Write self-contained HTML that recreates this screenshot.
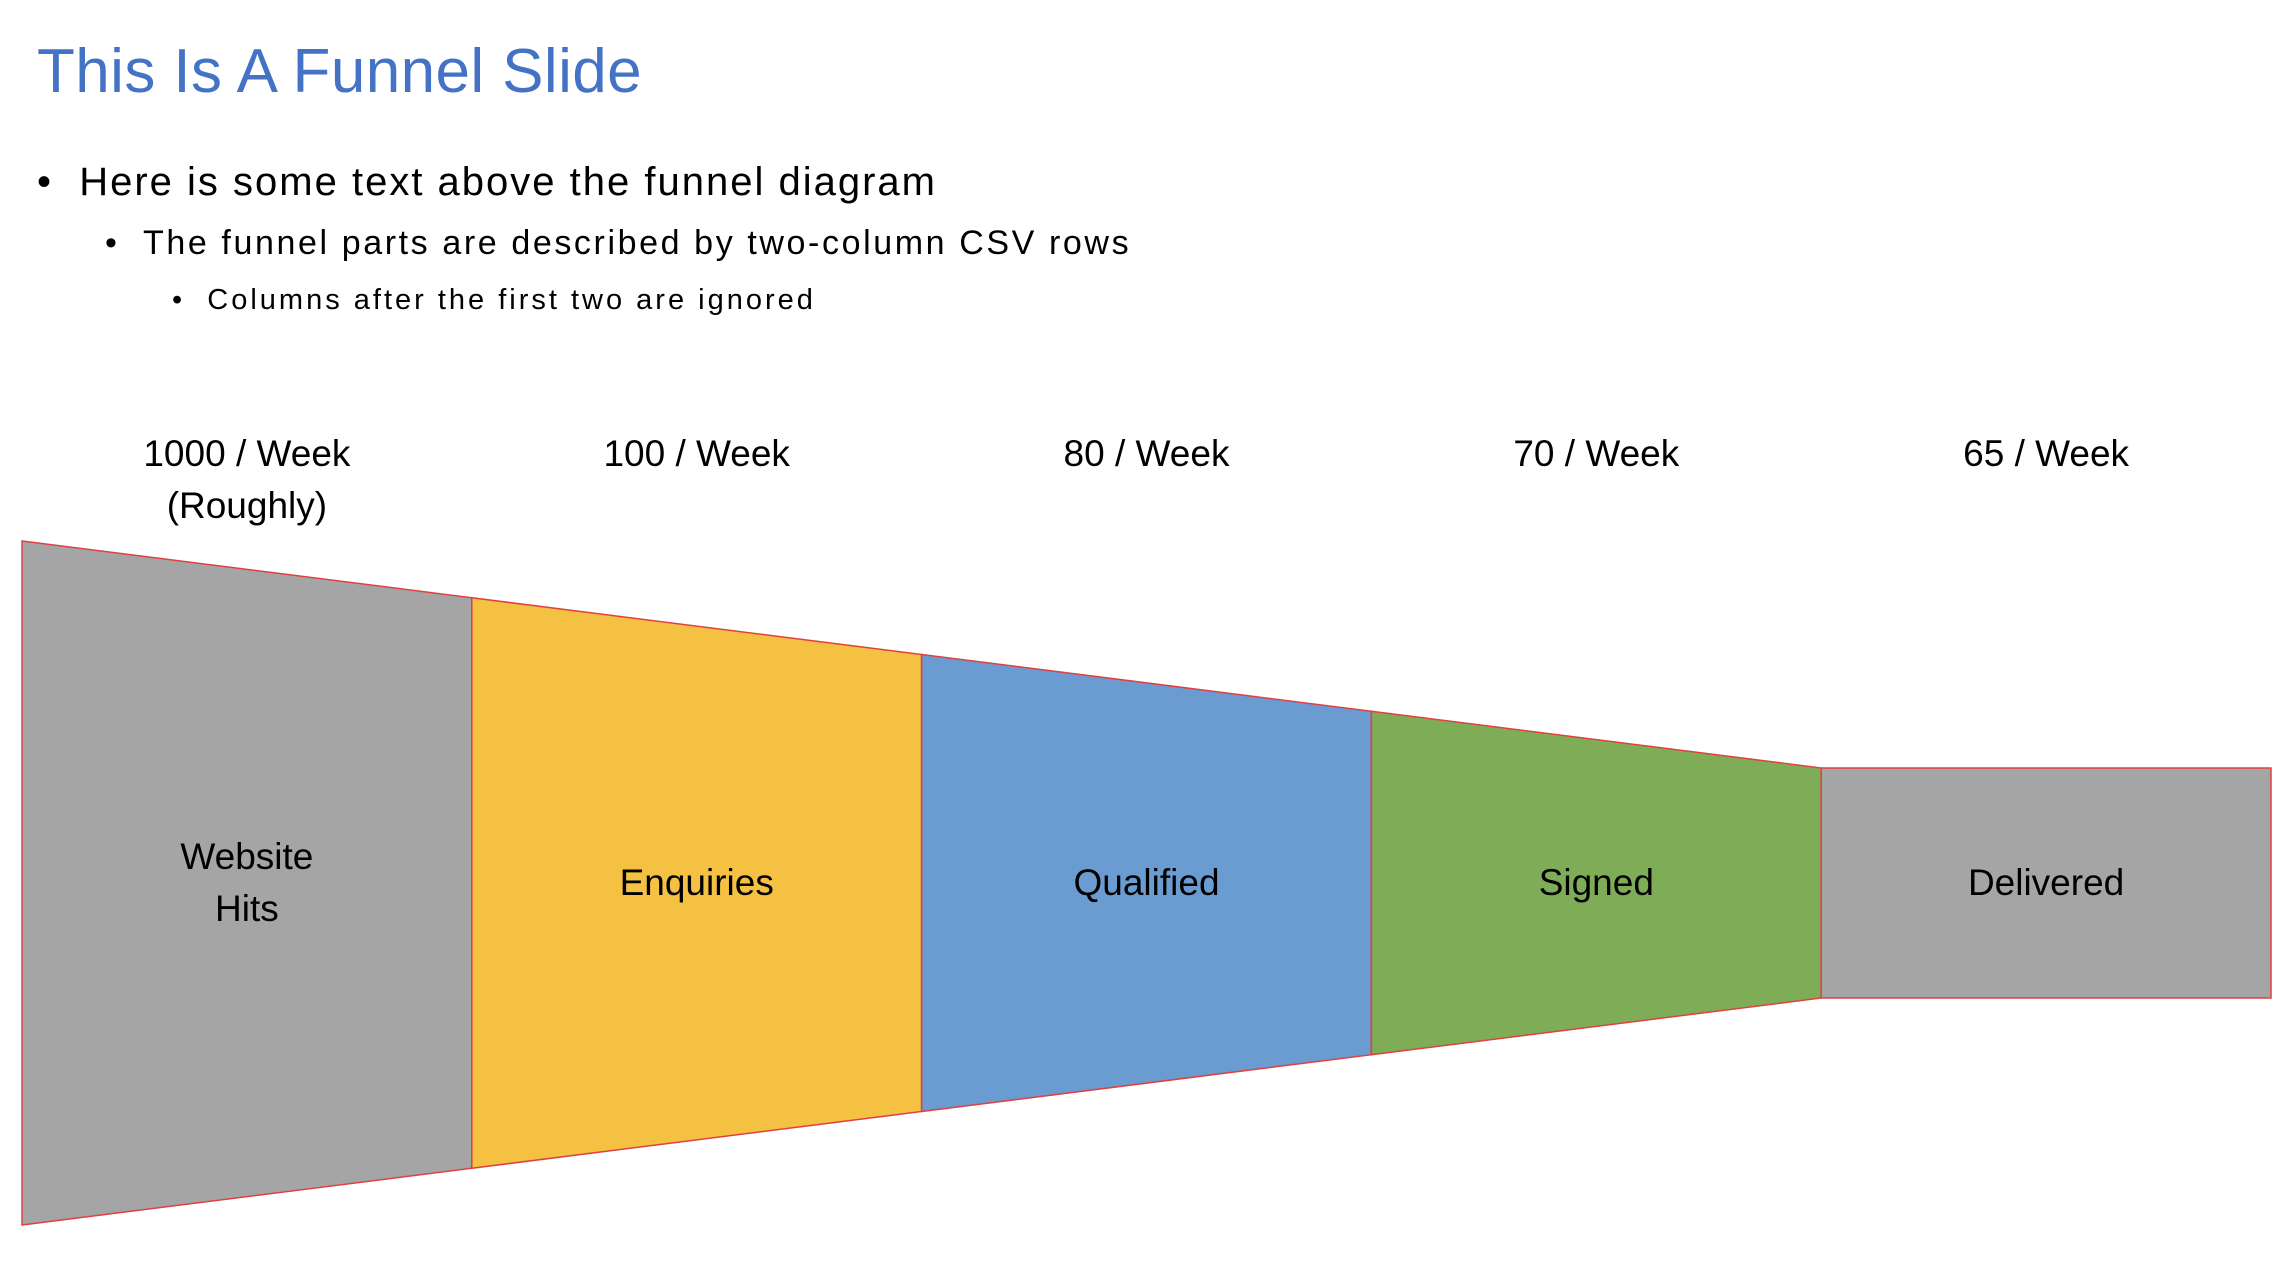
<!DOCTYPE html>
<html><head><meta charset="utf-8">
<style>
html,body{margin:0;padding:0;background:#fff;}
body{width:2286px;height:1278px;position:relative;overflow:hidden;font-family:"Liberation Sans",sans-serif;}
.t{position:absolute;white-space:nowrap;color:#000;}
</style></head><body>
<div class="t" style="left:37px;top:36px;font-size:62px;color:#4472C4;letter-spacing:0.4px;">This Is A Funnel Slide</div>
<div class="t" style="left:37px;top:160px;font-size:40px;letter-spacing:2px;">•&nbsp; Here is some text above the funnel diagram</div>
<div class="t" style="left:105px;top:224px;font-size:34px;letter-spacing:2.6px;">•&nbsp; The funnel parts are described by two-column CSV rows</div>
<div class="t" style="left:172px;top:284px;font-size:29px;letter-spacing:3px;">•&nbsp; Columns after the first two are ignored</div>
<svg id="funnel" width="2286" height="1278" style="position:absolute;left:0;top:0;"></svg>
<script>
const stages = ["Website\nHits","Enquiries","Qualified","Signed","Delivered"];
const rates = ["1000 / Week\n(Roughly)","100 / Week","80 / Week","70 / Week","65 / Week"];
const colors = ["#A5A5A5","#F4C142","#6A9BD1","#7FAD57","#A5A5A5"];
const svg = document.getElementById('funnel');
const NS = "http://www.w3.org/2000/svg";
const x0 = 22, x1 = 2271, cy = 883, halfStart = 342, halfEnd = 115;
const n = stages.length, w = (x1 - x0) / n;
const taper = n - 1;
function half(i){ const k = Math.min(i, taper); return halfStart - (halfStart - halfEnd) * k / taper; }
function xAt(i){ return x0 + i * w; }
for (let i = 0; i < n; i++) {
  const xa = xAt(i), xb = xAt(i + 1), ha = half(i), hb = half(i + 1);
  const p = document.createElementNS(NS, 'polygon');
  p.setAttribute('points', `${xa},${cy-ha} ${xb},${cy-hb} ${xb},${cy+hb} ${xa},${cy+ha}`);
  p.setAttribute('fill', colors[i]);
  p.setAttribute('stroke', '#E04040');
  p.setAttribute('stroke-width', '1.5');
  
  
  svg.appendChild(p);
  const cx = (xa + xb) / 2;
  const lines = stages[i].split('\n');
  const st = document.createElementNS(NS, 'text');
  st.setAttribute('x', cx);
  st.setAttribute('text-anchor', 'middle');
  st.setAttribute('font-size', '37');
  st.setAttribute('font-family', 'Liberation Sans, sans-serif');
  
  
  const y0 = cy + 12 - (lines.length - 1) * 26;
  lines.forEach((l, j) => { const ts = document.createElementNS(NS, 'tspan'); ts.setAttribute('x', cx); ts.setAttribute('y', y0 + j * 52); ts.textContent = l; st.appendChild(ts); });
  svg.appendChild(st);
  const rl = rates[i].split('\n');
  const rt = document.createElementNS(NS, 'text');
  rt.setAttribute('text-anchor', 'middle');
  rt.setAttribute('font-size', '37');
  rt.setAttribute('font-family', 'Liberation Sans, sans-serif');
  
  
  rl.forEach((l, j) => { const ts = document.createElementNS(NS, 'tspan'); ts.setAttribute('x', cx); ts.setAttribute('y', 466 + j * 52); ts.textContent = l; rt.appendChild(ts); });
  svg.appendChild(rt);
}
</script>
</body></html>
